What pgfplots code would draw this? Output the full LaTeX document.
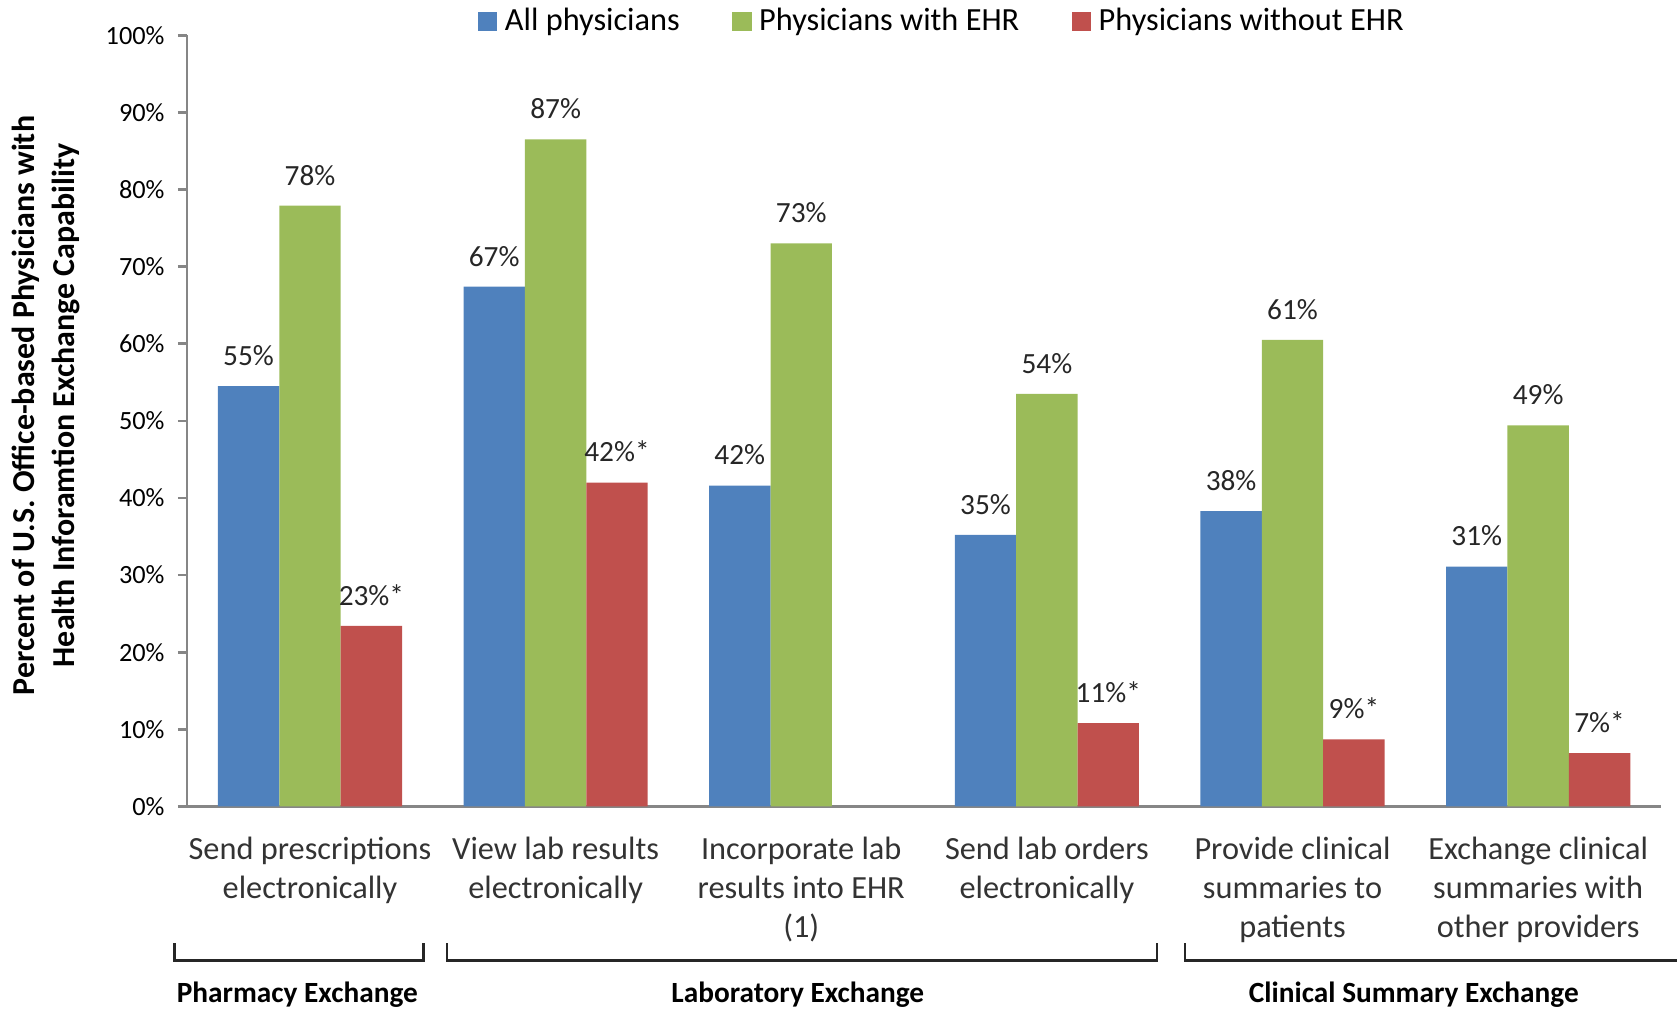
\documentclass[border=0pt]{standalone}
\usepackage{pgfplots}
\pgfplotsset{compat=1.18}
\usepackage{pgfplotstable}
\usepackage{fontspec}
\setmainfont{Carlito}
\definecolor{allblue}{HTML}{4F81BD}
\definecolor{ehrgreen}{HTML}{9BBB59}
\definecolor{noehrred}{HTML}{C0504D}
\definecolor{axisgray}{HTML}{868686}

% x = category index, y = bar height, lab = printed value
\pgfplotstableread{
x y lab
0 54.5 55
1 67.4 67
2 41.6 42
3 35.2 35
4 38.3 38
5 31.1 31
}\allphys
\pgfplotstableread{
x y lab
0 77.9 78
1 86.5 87
2 73.0 73
3 53.5 54
4 60.5 61
5 49.4 49
}\withehr
\pgfplotstableread{
x y lab
0 23.4 23
1 42.0 42
3 10.8 11
4 8.7 9
5 6.9 7
}\withoutehr

\begin{document}
\begin{tikzpicture}
\begin{axis}[
  scale only axis,
  width=13.78cm, height=7.21cm,
  ybar=0pt, bar width=0.25,
  xmin=-0.5, xmax=5.5, ymin=0, ymax=100,
  axis lines*=left,
  axis line style={draw=axisgray, line width=0.7pt},
  clip=false,
  xtick={0,...,5},
  xticklabels={{Send prescriptions\\electronically},
    {View lab results\\electronically},
    {Incorporate lab\\results into EHR\\(1)},
    {Send lab orders\\electronically},
    {Provide clinical\\summaries to\\patients},
    {Exchange clinical\\summaries with\\other providers}},
  major x tick style={draw=none},
  xticklabel style={align=center, anchor=north, yshift=-2pt,
    font=\fontsize{8.6}{10.5}\selectfont, text=black!80},
  ytick={0,10,...,100},
  yticklabels={0\%,10\%,20\%,30\%,40\%,50\%,60\%,70\%,80\%,90\%,100\%},
  yticklabel style={font=\fontsize{7}{8}\selectfont},
  major y tick style={draw=axisgray, line width=0.7pt},
  tick align=outside, major tick length=2.5pt,
  ylabel={Percent of U.S. Office-based Physicians with\\Health Inforamtion Exchange  Capability},
  ylabel style={at={(axis description cs:-0.0958,0.52)}, anchor=center,
    align=center, font=\bfseries\fontsize{8.5}{10.5}\selectfont},
  legend style={at={(axis description cs:0.514,1)}, anchor=south, yshift=-4.3pt,
    draw=none, fill=none, legend columns=-1,
    font=\fontsize{8.6}{10}\selectfont,
    /tikz/every even column/.append style={column sep=12pt}},
  legend image code/.code={\fill[#1] (0cm,-0.09cm) rectangle (0.18cm,0.09cm);},
  point meta=explicit symbolic,
  nodes near coords,
  every node near coord/.append style={font=\fontsize{7.8}{9}\selectfont,
    text=black!85, yshift=1.9pt},
]
\addplot[fill=allblue, draw=none, nodes near coords={\pgfplotspointmeta\%}]
  table[x=x, y=y, meta=lab] {\allphys};
\addplot[fill=ehrgreen, draw=none, nodes near coords={\pgfplotspointmeta\%}]
  table[x=x, y=y, meta=lab] {\withehr};
\addplot[fill=noehrred, draw=none, nodes near coords={\pgfplotspointmeta\%*}]
  table[x=x, y=y, meta=lab] {\withoutehr};
\legend{All physicians, Physicians with EHR, Physicians without EHR}

% group brackets
\draw[line width=0.6pt, black!85] (axis cs:-0.552,-17.75) |- (axis cs:0.462,-19.97) -- (axis cs:0.462,-17.75);
\draw[line width=0.6pt, black!85] (axis cs:0.558,-17.75) |- (axis cs:3.449,-19.97) -- (axis cs:3.449,-17.75);
\draw[line width=0.6pt, black!85] (axis cs:3.562,-17.75) |- (axis cs:5.65,-19.97);
\node[font=\bfseries\fontsize{7.8}{9}\selectfont] at (axis cs:-0.0515,-24.4) {Pharmacy Exchange};
\node[font=\bfseries\fontsize{7.8}{9}\selectfont] at (axis cs:1.986,-24.4) {Laboratory Exchange};
\node[font=\bfseries\fontsize{7.8}{9}\selectfont] at (axis cs:4.494,-24.4) {Clinical Summary Exchange};
\end{axis}
\pgfresetboundingbox
\path[use as bounding box] (current axis.south west) ++(-1.75cm,-1.90cm) rectangle ++(15.68cm,9.44cm);
\end{tikzpicture}
\end{document}
